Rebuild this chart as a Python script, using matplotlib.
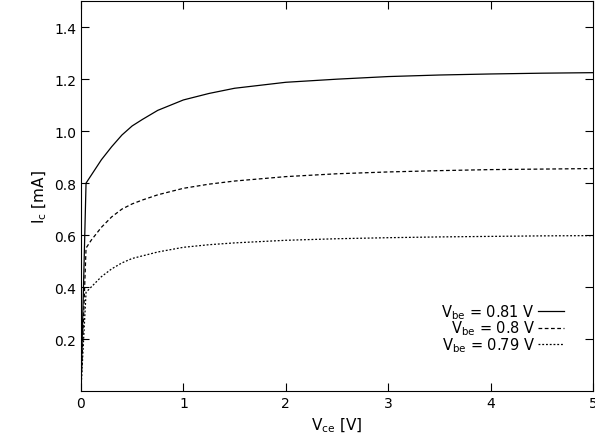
import matplotlib
matplotlib.use('Agg')
import matplotlib.pyplot as plt

# values (Vce in V, Ic in mA)
vce = [0.0, 0.05, 0.1, 0.15, 0.2, 0.3, 0.4, 0.5, 0.6, 0.75, 1.0, 1.25, 1.5, 2.0, 2.5, 3.0, 3.5, 4.0, 4.5, 5.0]
ic_081 = [0.0, 0.80, 0.83, 0.86, 0.89, 0.94, 0.985, 1.02, 1.045, 1.08, 1.12, 1.145, 1.165, 1.188, 1.200, 1.210, 1.216, 1.220, 1.223, 1.225]
ic_080 = [0.0, 0.55, 0.58, 0.605, 0.63, 0.67, 0.70, 0.72, 0.735, 0.755, 0.78, 0.796, 0.808, 0.825, 0.836, 0.843, 0.848, 0.852, 0.854, 0.856]
ic_079 = [0.0, 0.38, 0.40, 0.42, 0.44, 0.47, 0.493, 0.51, 0.52, 0.535, 0.553, 0.563, 0.570, 0.580, 0.586, 0.590, 0.593, 0.595, 0.597, 0.598]
labels = ['$\\mathregular{V_{be}}$ = 0.81 V', '$\\mathregular{V_{be}}$ = 0.8 V', '$\\mathregular{V_{be}}$ = 0.79 V']

fig = plt.figure(figsize=(5.95, 4.39), dpi=100)
ax = fig.add_axes([0.136, 0.107, 0.861, 0.888])
styles = ['-', (0, (3, 2)), (0, (1.5, 1.5))]
for y, ls, lab in zip([ic_081, ic_080, ic_079], styles, labels):
    ax.plot(vce, y, color='black', lw=0.9, ls=ls, label=lab)

ax.set_xlim(0, 5)
ax.set_ylim(0, 1.5)
ax.set_xticks([0, 1, 2, 3, 4, 5])
ax.set_yticks([0.2, 0.4, 0.6, 0.8, 1.0, 1.2, 1.4])
ax.yaxis.set_major_formatter(matplotlib.ticker.FormatStrFormatter('%.1f'))
ax.tick_params(direction='in', top=True, right=True, labelsize=10, length=6)
ax.set_xlabel('$\\mathregular{V_{ce}}$ [V]', fontsize=11)
ax.set_ylabel('$\\mathregular{I_c}$ [mA]', fontsize=11)
ax.legend(loc='lower right', bbox_to_anchor=(0.955, 0.08), frameon=False, markerfirst=False,
          handlelength=1.8, labelspacing=-0.15, handletextpad=0.2, fontsize=10.5,
          borderaxespad=0)
fig.savefig('out.png', dpi=100)
